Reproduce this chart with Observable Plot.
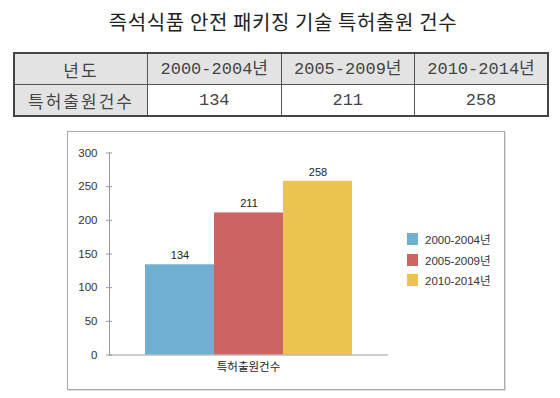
<!DOCTYPE html>
<html>
<head>
<meta charset="utf-8">
<script src="https://cdn.jsdelivr.net/npm/d3@7"></script>
<script src="https://cdn.jsdelivr.net/npm/@observablehq/plot@0.6"></script>
<style>
  html, body { margin:0; padding:0; background:#fff; }
  body { width:560px; height:398px; position:relative; overflow:hidden; }
  #title { position:absolute; left:0; top:12px; width:566px; text-align:center;
    font-family:"Noto Sans CJK KR", sans-serif; font-size:20px; letter-spacing:0.6px; color:#222; line-height:1; }
  #tbl { position:absolute; left:13px; top:52px; width:536px; border-collapse:collapse;
    border:2px solid #444; table-layout:fixed; }
  #tbl td { border:1px solid #555; height:30px; padding:0; text-align:center; color:#444;
    font-family:"Liberation Mono", "Noto Sans CJK KR", monospace; font-size:17px; line-height:1; }
  #tbl td.g { background:#e3e3e3; }
  #tbl td.k { font-family:"Noto Sans CJK KR", sans-serif; letter-spacing:2px; }
  #frame { position:absolute; left:67px; top:131px; width:438px; height:259px; box-sizing:border-box;
    border:1px solid #aaa; box-shadow:1px 1px 0 #ddd; }
  #chart { position:absolute; left:67px; top:131px; }
  #legend { position:absolute; left:407px; top:233px; font-family:"Liberation Sans", Arial, "Noto Sans CJK KR", sans-serif;
    font-size:11.5px; color:#333; }
  .li { display:flex; align-items:center; height:12px; margin-bottom:8.5px; }
  .sw { width:11px; height:12px; margin-right:7px; }
</style>
</head>
<body>
<div id="title"></div>
<table id="tbl"></table>
<div id="frame"></div>
<div id="chart"></div>
<div id="legend"></div>
<script>
const title = "즉석식품 안전 패키징 기술 특허출원 건수";
const headerLabel = "년도";
const category = "특허출원건수";
const periods = ["2000-2004년", "2005-2009년", "2010-2014년"];
const counts = [134, 211, 258];
const yTicks = [0, 50, 100, 150, 200, 250, 300];
const colors = ["#70afd0", "#cc6464", "#ebc350"];

document.getElementById("title").textContent = title;

// table
const tbl = document.getElementById("tbl");
const r1 = tbl.insertRow();
const h0 = r1.insertCell(); h0.textContent = headerLabel; h0.className = "g k";
periods.forEach(p => { const c = r1.insertCell(); c.textContent = p; c.className = "g"; });
const r2 = tbl.insertRow();
const c0 = r2.insertCell(); c0.textContent = category; c0.className = "g k";
counts.forEach(v => { const c = r2.insertCell(); c.textContent = String(v); });

const data = periods.map((p, i) => ({period: p, count: counts[i]}));

const chart = Plot.plot({
  width: 438, height: 259,
  marginLeft: 42, marginRight: 118, marginTop: 21.5, marginBottom: 35.5,
  style: {fontFamily: "'Liberation Sans', Arial, 'Noto Sans CJK KR', sans-serif", fontSize: "11px", color: "#333", background: "transparent", overflow: "visible"},
  x: {domain: periods, paddingInner: 0, paddingOuter: 0.5, axis: null},
  y: {domain: [0, 300], axis: null},
  color: {domain: periods, range: colors},
  marks: [
    Plot.barY(data, {x: "period", y: "count", fill: "period", inset: 0}),
    Plot.text(data, {x: "period", y: "count", text: d => String(d.count), dy: -9, fill: "#222"}),
    Plot.frame({anchor: "left", stroke: "#999"}),
    Plot.frame({anchor: "bottom", stroke: "#999"}),
    Plot.axisY({ticks: yTicks, tickSize: 3, tickPadding: 9, stroke: "#999", fill: "#333", label: null, fontSize: 11.5}),
    Plot.axisY({ticks: yTicks, tickSize: 3, dx: 3, tickFormat: () => "", stroke: "#999", label: null}),
    Plot.text([category], {frameAnchor: "bottom", dy: 16, text: d => d, fontSize: 11.5, fill: "#222"})
  ]
});
document.getElementById("chart").appendChild(chart);

// legend
const lg = document.getElementById("legend");
periods.forEach((p, i) => {
  const row = document.createElement("div"); row.className = "li";
  const sw = document.createElement("div"); sw.className = "sw"; sw.style.background = colors[i];
  const t = document.createElement("span"); t.textContent = p;
  row.appendChild(sw); row.appendChild(t); lg.appendChild(row);
});
</script>
</body>
</html>
